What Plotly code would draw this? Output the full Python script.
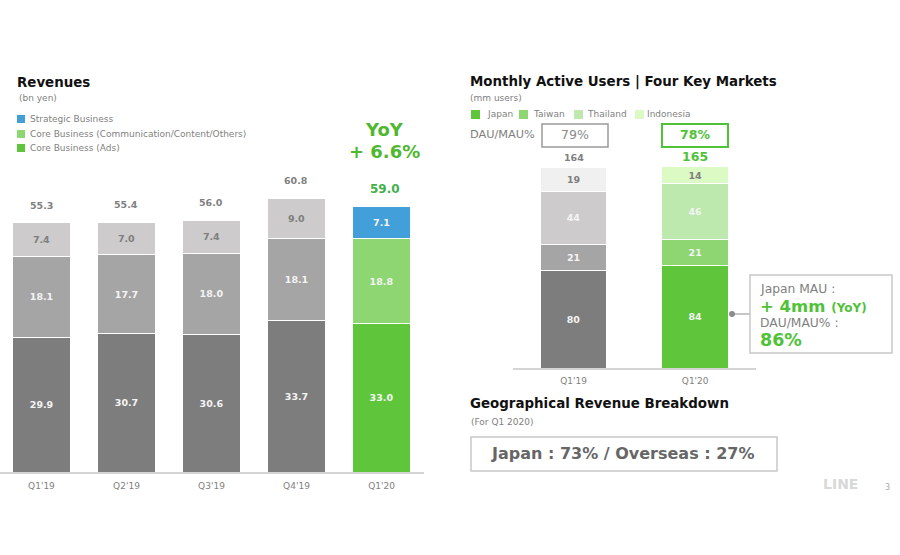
import plotly.graph_objects as go

# Revenues (bn yen)
rev_quarters = ["Q1'19", "Q2'19", "Q3'19", "Q4'19", "Q1'20"]
rev_ads = [29.9, 30.7, 30.6, 33.7, 33.0]
rev_core = [18.1, 17.7, 18.0, 18.1, 18.8]
rev_strategic = [7.4, 7.0, 7.4, 9.0, 7.1]
rev_totals = [55.3, 55.4, 56.0, 60.8, 59.0]

# MAU (mm users)
mau_quarters = ["Q1'19", "Q1'20"]
mau_japan = [80, 84]
mau_taiwan = [21, 21]
mau_thailand = [44, 46]
mau_indonesia = [19, 14]
mau_totals = [164, 165]

GREY1, GREY2, GREY3, GREY4 = "#7d7d7d", "#a5a5a5", "#cdcbcc", "#f0f0f0"
GREEN1, GREEN2, GREEN3, GREEN4 = "#5fc63c", "#8ed672", "#bde8ae", "#dcfac4"
BLUE = "#429fd9"
GREEN_TEXT = "#4fc238"
TEXT_GREY = "#7f7f7f"
FONT = "DejaVu Sans"
W, H = 900, 555


def px(x):
    return x / W


def py(y):
    return 1 - y / H


fig = go.Figure()


def add_bars(name, xs, vals, colors, text_colors, fmt, axis, width):
    fig.add_trace(go.Bar(
        name=name, x=xs, y=vals, width=width,
        xaxis="x" + axis, yaxis="y" + axis,
        marker=dict(color=colors, line=dict(color="white", width=1)),
        text=[fmt.format(v) for v in vals],
        textposition="inside", insidetextanchor="middle", textangle=0,
        constraintext="none",
        textfont=dict(family=FONT, size=9.5, color=text_colors, weight="bold"),
        showlegend=False, hoverinfo="skip",
    ))


add_bars("Core Business (Ads)", rev_quarters, rev_ads, [GREY1] * 4 + [GREEN1], "#f4f4f4", "{:.1f}", "", 0.682)
add_bars("Core Business (Communication/Content/Others)", rev_quarters, rev_core, [GREY2] * 4 + [GREEN2], "#f4f4f4", "{:.1f}", "", 0.682)
add_bars("Strategic Business", rev_quarters, rev_strategic, [GREY3] * 4 + [BLUE], [TEXT_GREY] * 4 + ["#f4f4f4"], "{:.1f}", "", 0.682)

add_bars("Japan", mau_quarters, mau_japan, [GREY1, GREEN1], "#f4f4f4", "{}", "2", 0.55)
add_bars("Taiwan", mau_quarters, mau_taiwan, [GREY2, GREEN2], "#f4f4f4", "{}", "2", 0.55)
add_bars("Thailand", mau_quarters, mau_thailand, [GREY3, GREEN3], "#f4f4f4", "{}", "2", 0.55)
add_bars("Indonesia", mau_quarters, mau_indonesia, [GREY4, GREEN4], TEXT_GREY, "{}", "2", 0.55)

shapes = []
notes = []


def label(x, y, text, size=10, color=TEXT_GREY, bold=False, anchor="left"):
    notes.append(dict(
        xref="paper", yref="paper", x=px(x), y=py(y), text=text, showarrow=False,
        xanchor=anchor, yanchor="middle", borderpad=0,
        font=dict(family=FONT, size=size, color=color, weight="bold" if bold else "normal"),
    ))


def box(x0, y0, x1, y1, line=None, fill=None, width=1.5):
    shapes.append(dict(
        type="rect", xref="paper", yref="paper",
        x0=px(x0), x1=px(x1), y0=py(y0), y1=py(y1),
        fillcolor=fill or "rgba(0,0,0,0)",
        line=dict(color=line or "rgba(0,0,0,0)", width=width if line else 0),
    ))


# totals above the stacks
for i, (q, t) in enumerate(zip(rev_quarters, rev_totals)):
    last = i == len(rev_totals) - 1
    notes.append(dict(
        x=q, y=t, xref="x", yref="y", text=f"{t:.1f}", showarrow=False,
        yshift=18, xshift=3 if last else 0,
        font=dict(family=FONT, size=12 if last else 9.5, weight="bold",
                  color="#42b04a" if last else TEXT_GREY),
    ))
for i, (q, t) in enumerate(zip(mau_quarters, mau_totals)):
    last = i == len(mau_totals) - 1
    notes.append(dict(
        x=q, y=t, xref="x2", yref="y2", text=str(t), showarrow=False, yshift=10,
        font=dict(family=FONT, size=12.5 if last else 9.5, weight="bold",
                  color=GREEN_TEXT if last else TEXT_GREY),
    ))

# left panel headings and legend
label(16, 82, "Revenues", 13.4, "#111111", True)
label(18, 98, "(bn yen)", 9)
box(17, 115, 25, 123, fill=BLUE)
label(29, 118.5, "Strategic Business", 9)
box(17, 130, 25, 138, fill=GREEN2)
label(29, 134.5, "Core Business (Communication/Content/Others)", 9)
box(17, 144, 25, 152, fill=GREEN1)
label(29, 148, "Core Business (Ads)", 9)
label(384, 129, "YoY", 18, "#4fb82f", True, "center")
label(384, 151, "+ 6.6%", 18, "#4fb82f", True, "center")

# right panel headings and legend
label(469, 82, "Monthly Active Users | Four Key Markets", 13.4, "#111111", True)
label(469, 98, "(mm users)", 9)
mau_legend = [("Japan", 471, 486, GREEN1), ("Taiwan", 519, 532, GREEN2),
              ("Thailand", 574, 586, GREEN3), ("Indonesia", 635, 646, GREEN4)]
for name, x, text_x, color in mau_legend:
    box(x, 110, x + 9, 119, fill=color)
    label(text_x, 114, name, 9)

label(469, 135, "DAU/MAU%", 11.3)
box(542, 124, 608, 147, line="#9a9a9a")
label(575, 135, "79%", 12.5, "#8a8a8a", anchor="center")
box(662, 124, 728, 147, line=GREEN_TEXT, width=2)
label(695, 135, "78%", 12.5, GREEN_TEXT, True, "center")

# Japan callout
shapes.append(dict(type="line", xref="paper", yref="paper", x0=px(732), x1=px(750),
                   y0=py(314), y1=py(314), line=dict(color="#8c8c8c", width=1)))
shapes.append(dict(type="circle", xref="paper", yref="paper", x0=px(729), x1=px(735),
                   y0=py(311), y1=py(317), fillcolor="#8c8c8c", line=dict(width=0)))
box(750, 275, 892, 353, line="#c8c8c8")
label(759, 289, "Japan MAU :", 12.3)
label(759, 306, "+ 4mm <span style='font-size:12px'>(YoY)</span>", 16.5, GREEN_TEXT, True)
label(759, 323, "DAU/MAU% :", 12.3)
label(759, 340, "86%", 17.5, GREEN_TEXT, True)

# geographical breakdown
label(469, 403, "Geographical Revenue Breakdown", 13.4, "#111111", True)
label(470, 422, "(For Q1 2020)", 9)
box(471, 437, 777, 471, line="#c8c8c8")
label(623, 453, "Japan : 73% / Overseas : 27%", 16, "#666666", True, "center")

# footer
label(840.5, 484, "LINE", 14, "#d8d8d8", True, "center")
label(887, 487, "3", 8, "#a8a8a8", anchor="center")

tickfont = dict(family=FONT, size=9, color=TEXT_GREY)
fig.update_layout(
    width=W, height=H,
    margin=dict(l=0, r=0, t=0, b=0),
    paper_bgcolor="white", plot_bgcolor="white",
    barmode="stack",
    showlegend=False,
    shapes=shapes, annotations=notes,
    xaxis=dict(domain=[px(0), px(424)], range=[-0.488, 4.5], type="category",
               showline=True, linecolor="#d4d4d4", linewidth=2, ticks="",
               ticklabelstandoff=4,
               tickfont=tickfont, showgrid=False, anchor="y", fixedrange=True),
    yaxis=dict(domain=[py(472), py(170)], range=[0, 302 / 4.5], visible=False,
               showgrid=False, anchor="x", fixedrange=True),
    xaxis2=dict(domain=[px(512.7), px(756)], range=[-0.5, 1.5], type="category",
                showline=True, linecolor="#d4d4d4", linewidth=2, ticks="",
                ticklabelstandoff=3,
                tickfont=tickfont, showgrid=False, anchor="y2", fixedrange=True),
    yaxis2=dict(domain=[py(368), py(150)], range=[0, 218 / 1.22], visible=False,
                showgrid=False, anchor="x2", fixedrange=True),
)

# page margin would push the fixed-size figure off by 8px
fig.write_html("out.html", config={"displayModeBar": False},
               post_script="document.body.style.margin='0';")
